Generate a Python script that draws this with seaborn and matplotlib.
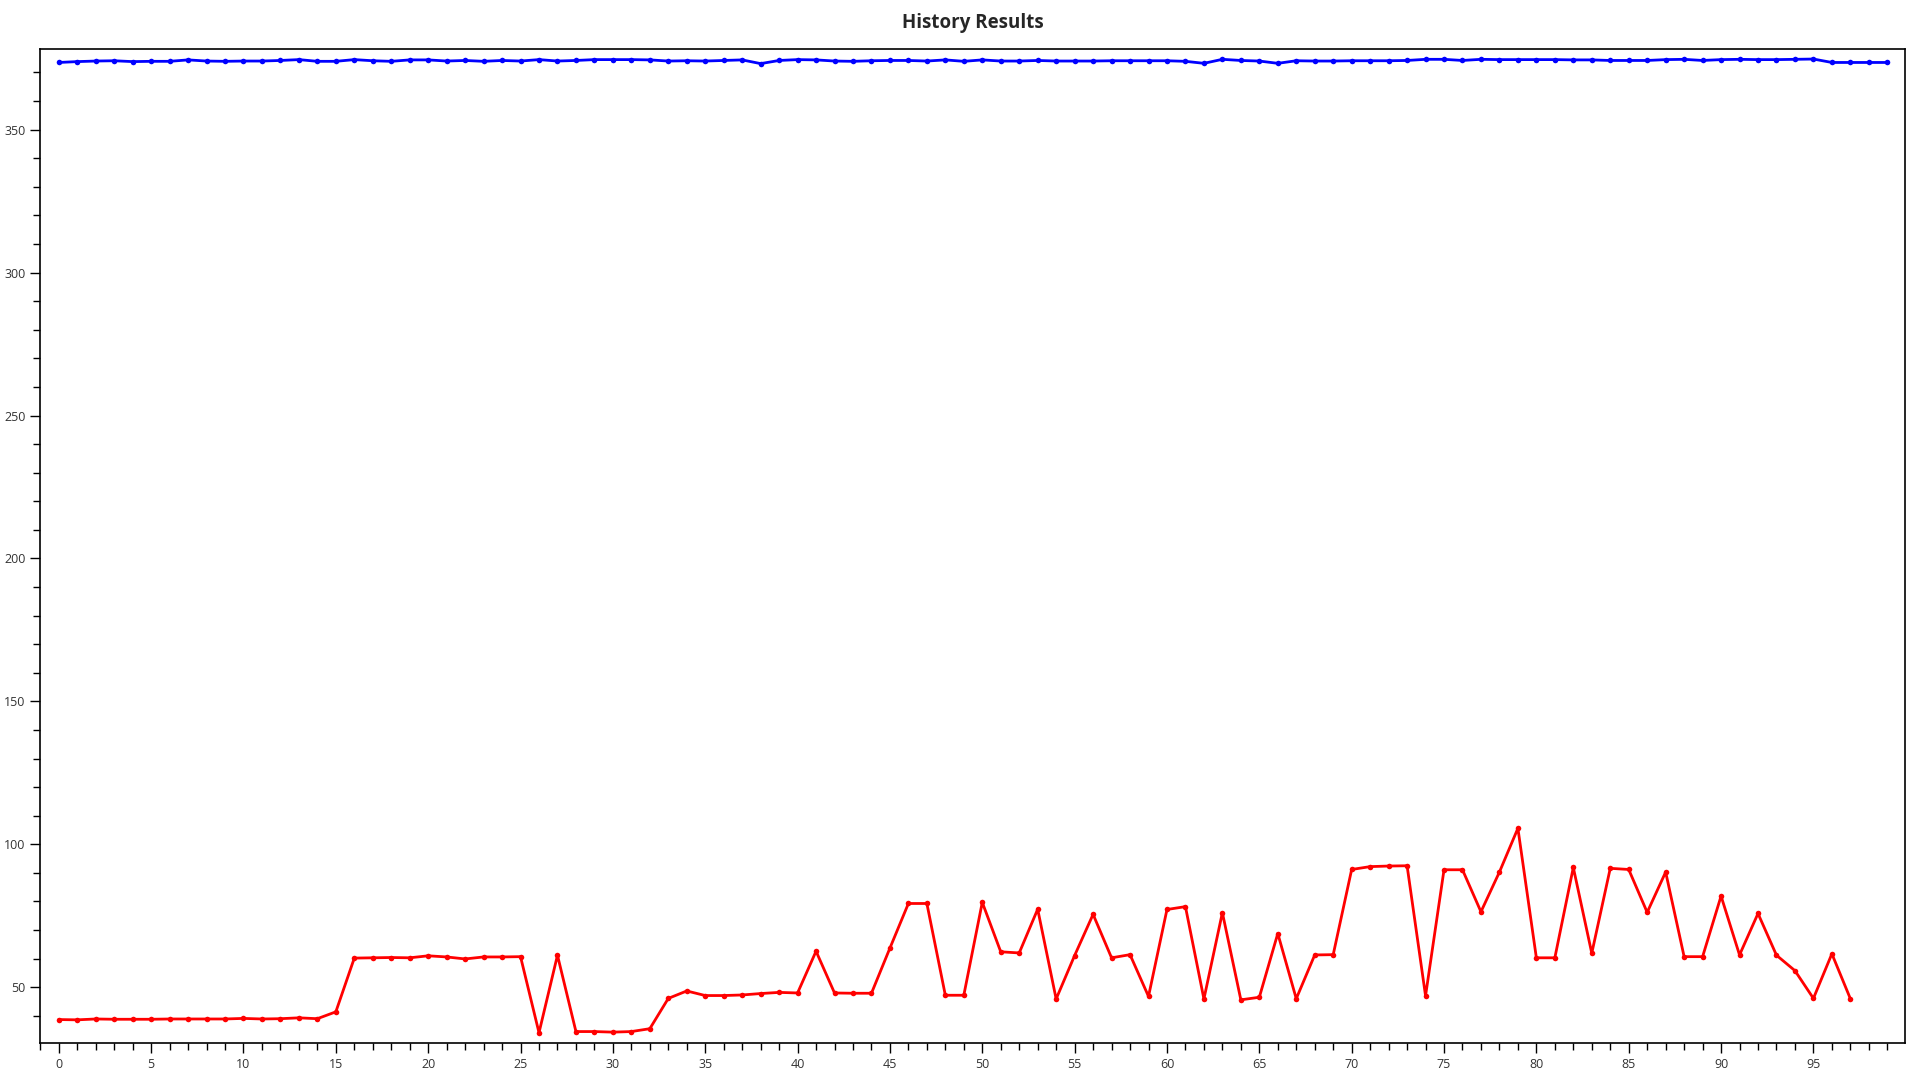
import matplotlib
matplotlib.use("Agg")
import matplotlib.pyplot as plt
from matplotlib.ticker import MultipleLocator
import seaborn as sns
import pandas as pd
import numpy as np

# values
blue_values = [
    373.5, 373.8, 374.0, 374.1, 373.8, 373.9, 373.9, 374.4, 374.0, 373.9,
    374.0, 374.0, 374.2, 374.5, 373.9, 373.9, 374.5, 374.1, 373.9, 374.4,
    374.4, 374.0, 374.2, 373.9, 374.2, 374.0, 374.5, 374.0, 374.2, 374.5,
    374.5, 374.5, 374.4, 374.0, 374.1, 374.0, 374.2, 374.4, 373.1, 374.2,
    374.5, 374.4, 374.0, 373.9, 374.1, 374.2, 374.2, 374.0, 374.4, 373.9,
    374.4, 374.0, 374.0, 374.2, 374.0, 374.0, 374.0, 374.1, 374.1, 374.1,
    374.1, 373.9, 373.2, 374.6, 374.2, 374.0, 373.2, 374.1, 374.0, 374.0,
    374.1, 374.1, 374.1, 374.2, 374.6, 374.6, 374.2, 374.6, 374.5, 374.5,
    374.5, 374.5, 374.4, 374.4, 374.2, 374.2, 374.2, 374.5, 374.6, 374.2,
    374.5, 374.6, 374.5, 374.5, 374.6, 374.7, 373.5, 373.5, 373.5, 373.5,
]

red_values = [
    38.7, 38.6, 38.9, 38.8, 38.8, 38.8, 38.9, 38.9, 38.9, 38.9,
    39.1, 38.9, 39.0, 39.3, 39.0, 41.4, 60.2, 60.3, 60.4, 60.3,
    61.0, 60.6, 59.9, 60.6, 60.6, 60.7, 34.1, 61.2, 34.5, 34.5,
    34.3, 34.5, 35.5, 46.1, 48.7, 47.1, 47.1, 47.3, 47.8, 48.2,
    48.0, 62.6, 48.0, 47.9, 47.9, 63.7, 79.3, 79.3, 47.2, 47.2,
    79.7, 62.4, 62.0, 77.3, 45.9, 61.1, 75.5, 60.3, 61.4, 46.8,
    77.2, 78.2, 45.9, 76.1, 45.6, 46.5, 68.8, 46.0, 61.3, 61.4,
    91.2, 92.2, 92.4, 92.5, 47.0, 91.1, 91.1, 76.4, 90.3, 105.6,
    60.3, 60.3, 91.9, 61.9, 91.6, 91.2, 76.2, 90.3, 60.7, 60.7,
    81.9, 61.3, 75.8, 61.2, 55.8, 46.1, 61.7, 46.0,
]

df_blue = pd.DataFrame({"Index": np.arange(len(blue_values)), "Value": blue_values})
df_red = pd.DataFrame({"Index": np.arange(len(red_values)), "Value": red_values})

sns.set_style("white")
plt.rcParams["font.family"] = ["Open Sans", "DejaVu Sans"]

fig = plt.figure(figsize=(19.2, 10.8), dpi=100)
ax = fig.add_axes([0.021, 0.034, 0.9712, 0.9206])

for df, col in [(df_blue, "#0000ff"), (df_red, "#ff0000")]:
    sns.lineplot(data=df, x="Index", y="Value", color=col, marker="o",
                 markersize=4, markeredgewidth=0, linewidth=2, ax=ax)

ax.set_xlim(-1.0, 99.96)
ax.set_ylim(30.4, 378.2)
ax.xaxis.set_minor_locator(MultipleLocator(1))
ax.yaxis.set_major_locator(MultipleLocator(50))
ax.yaxis.set_minor_locator(MultipleLocator(10))
ax.set_xticks(np.arange(0, 100, 5))
ax.tick_params(axis="both", which="major", direction="out", length=7, width=1,
               color="black", labelsize=9, labelcolor="#333333", bottom=True, left=True)
ax.tick_params(axis="both", which="minor", direction="out", length=5, width=1,
               color="black", bottom=True, left=True)
for s in ax.spines.values():
    s.set_color("black")
    s.set_linewidth(1.2)

ax.set_xlabel("")
ax.set_ylabel("")
ax.set_title("History Results", fontsize=13.5, fontweight="bold", pad=15)

plt.savefig("out.png", dpi=100)
plt.close()
